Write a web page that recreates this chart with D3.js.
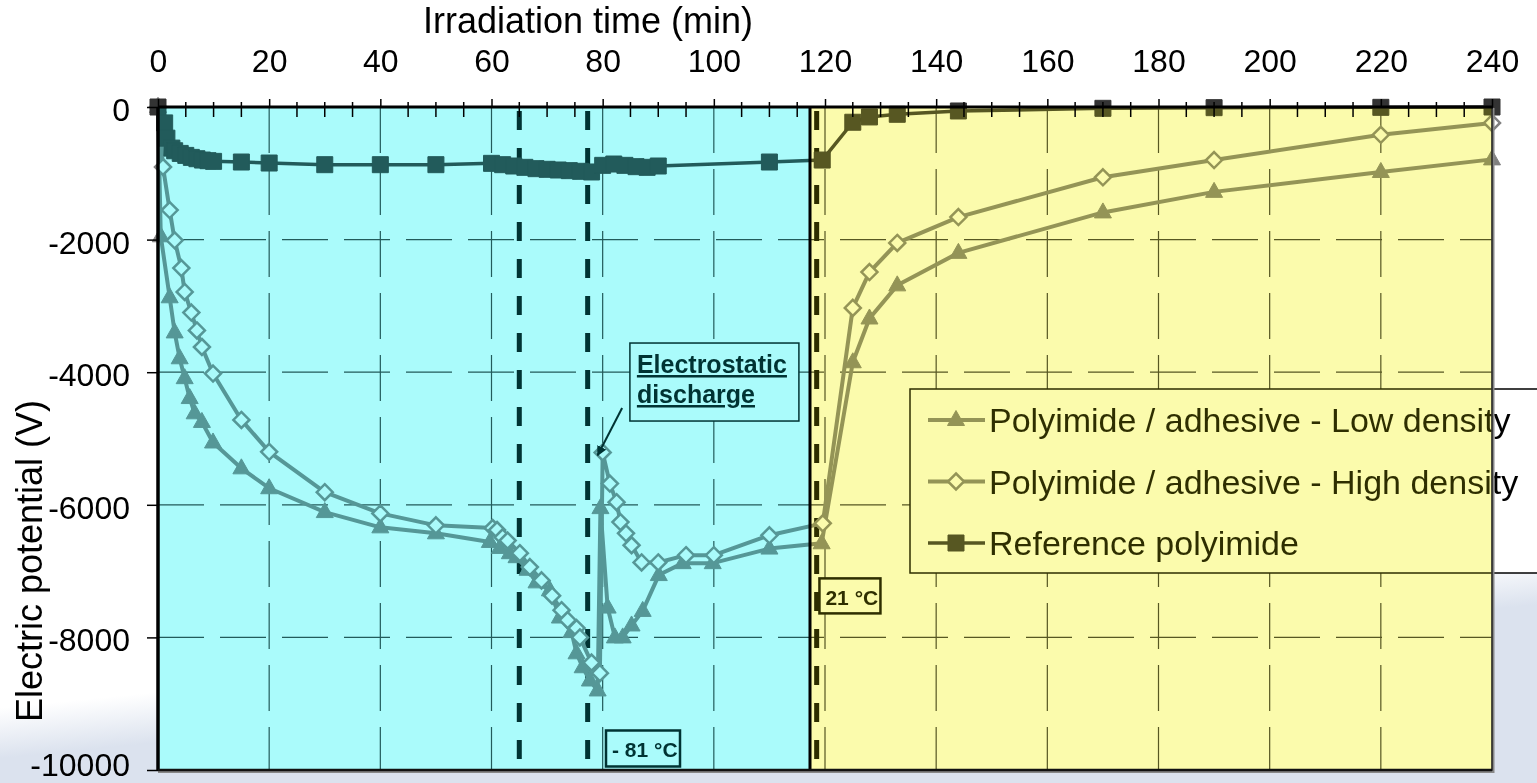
<!DOCTYPE html>
<html>
<head>
<meta charset="utf-8">
<script src="https://cdn.jsdelivr.net/npm/d3@7"></script>
<style>
  html, body { margin: 0; padding: 0; overflow: hidden; background: #fff; }
  svg { display: block; font-family: "Liberation Sans", Arial, sans-serif; }
</style>
</head>
<body>
<svg id="chart" width="1537" height="783"></svg>
<script>
'use strict';

// ---- data ----
const lowTime = [0, 0.5, 2.1, 3, 3.9, 4.8, 5.7, 6.6, 7.9, 9.9, 15, 20, 30, 40, 50, 59.7, 61.5, 63.3, 64.5, 66.5,
  68.1, 70.5, 72.3, 74.4, 75.3, 76.4, 77.7, 79.1, 79.6, 80.9, 82.2, 83.6, 85.2, 87.2, 90.1, 94.4, 99.8, 110, 119.4,
  125, 128, 133, 144, 170, 190, 220, 240];
const lowValue = [0, -1950, -2870, -3400, -3790, -4090, -4390, -4620, -4750, -5060, -5450, -5750, -6110, -6340, -6430,
  -6560, -6650, -6730, -6790, -6980, -7170, -7290, -7700, -7920, -8240, -8450, -8650, -8800, -6050, -7550, -8000,
  -8000, -7820, -7600, -7060, -6880, -6880, -6660, -6580, -3850, -3190, -2690, -2200, -1590, -1280, -980, -790];

const highTime = [0, 0.9, 2.1, 3, 4.2, 4.8, 6, 7, 7.9, 9.9, 15, 20, 30, 40, 50, 60.2, 61, 62, 62.9, 65.1, 66.9, 69,
  70.9, 72.6, 73.7, 75.3, 75.9, 78, 79.5, 80, 81.3, 82.5, 83.2, 84.2, 85.2, 87, 90, 95, 100, 110, 119.6, 125, 128,
  133, 144, 170, 190, 220, 240];
const highValue = [0, -905, -1555, -2010, -2430, -2790, -3100, -3370, -3620, -4020, -4720, -5200, -5810, -6130, -6310,
  -6350, -6380, -6490, -6540, -6730, -6940, -7140, -7370, -7590, -7740, -7860, -8000, -8380, -8540, -5210, -5680,
  -5960, -6260, -6430, -6610, -6870, -6870, -6760, -6760, -6460, -6280, -3030, -2490, -2050, -1660, -1060, -800,
  -420, -240];

const refTime = [0, 1.2, 1.6, 2.5, 3, 4, 5, 6, 7, 8, 9, 10, 15, 20, 30, 40, 50, 60, 62, 64, 66, 68, 70, 72, 74, 76,
  78, 80, 82, 84, 86, 88, 90, 110, 119.5, 125, 128, 133, 144, 170, 190, 220, 240];
const refValue = [0, -240, -470, -620, -660, -700, -730, -760, -780, -800, -810, -820, -830, -845, -870, -870, -870,
  -850, -870, -890, -910, -930, -940, -950, -960, -970, -980, -880, -860, -880, -900, -910, -890, -830, -800, -230,
  -150, -110, -60, -20, -10, -5, 0];

const seriesNames = ["Polyimide / adhesive - Low density", "Polyimide / adhesive - High density", "Reference polyimide"];

const xMajorTicks = d3.range(0, 241, 20);
const xMinorTicks = d3.range(0, 241, 5);
const yTicks = [0, -2000, -4000, -6000, -8000, -10000];

// vertical marker lines (min): temperature steps, end of cold phase
const stepTimes = [65, 77.3, 118.5];
const coldEnd = 117.3;

// ---- layout ----
const svg = d3.select("#chart");
const W = 1537, H = 783;
const margin = {top: 107, right: 45, bottom: 13, left: 158};
const x = d3.scaleLinear().domain([0, 240]).range([margin.left, W - margin.right]);
const y = d3.scaleLinear().domain([-10000, 0]).range([H - margin.bottom, margin.top]);
const x0 = x(0), x1 = x(240), y0 = y(0), y1 = y(-10000);

const defs = svg.append("defs");

const bg = defs.append("linearGradient").attr("id", "slideBg")
    .attr("gradientUnits", "userSpaceOnUse")
    .attr("x1", 68).attr("y1", 701).attr("x2", 73).attr("y2", 751);
bg.append("stop").attr("offset", 0).attr("stop-color", "#ffffff");
bg.append("stop").attr("offset", 1).attr("stop-color", "#dbe2ee");

defs.append("marker").attr("id", "arrowHead")
    .attr("viewBox", "0 0 10 10").attr("refX", 9).attr("refY", 5)
    .attr("markerWidth", 5).attr("markerHeight", 5).attr("orient", "auto")
  .append("path").attr("d", "M0,0 L10,5 L0,10 Z").attr("fill", "#000");

svg.append("rect").attr("width", W).attr("height", H).attr("fill", "url(#slideBg)");

// plot area
svg.append("rect").attr("x", x0).attr("y", y0).attr("width", x1 - x0).attr("height", y1 - y0).attr("fill", "#fff");

// gridlines
const grid = svg.append("g").attr("stroke", "#333").attr("stroke-width", 1.2).attr("stroke-dasharray", "46,16");
grid.selectAll(".hgrid").data(yTicks.slice(1, -1)).enter().append("line")
    .attr("x1", x0).attr("x2", x1).attr("y1", d => y(d)).attr("y2", d => y(d));
grid.selectAll(".vgrid").data(xMajorTicks.slice(1, -1)).enter().append("line")
    .attr("y1", y0).attr("y2", y1).attr("x1", d => x(d)).attr("x2", d => x(d));

// thick dashed step lines
svg.append("g").selectAll("line").data(stepTimes).enter().append("line")
    .attr("x1", d => x(d)).attr("x2", d => x(d)).attr("y1", y0 + 4).attr("y2", y1)
    .attr("stroke", "#000").attr("stroke-width", 5).attr("stroke-dasharray", "19,18");

// ---- series ----
const zip = (t, v) => t.map((d, i) => ({t: d, v: v[i]}));
const series = [
  {name: seriesNames[0], values: zip(lowTime, lowValue), color: "#808080", width: 4, marker: "triangle"},
  {name: seriesNames[1], values: zip(highTime, highValue), color: "#808080", width: 4, marker: "diamond"},
  {name: seriesNames[2], values: zip(refTime, refValue), color: "#333333", width: 3.5, marker: "square"}
];

const line = d3.line().x(d => x(d.t)).y(d => y(d.v));

const markerPath = {
  triangle: "M0,-9.5 L8.5,5.5 L-8.5,5.5 Z",
  diamond: "M0,-8 L8,0 L0,8 L-8,0 Z",
  square: "M-8,-8 H8 V8 H-8 Z"
};
const styleMarker = (sel, s) => {
  if (s.marker === "diamond") {
    sel.attr("fill", "#fff").attr("stroke", s.color).attr("stroke-width", 2.5);
  } else {
    sel.attr("fill", s.color).attr("stroke", s.color).attr("stroke-width", 1);
  }
};

const sg = svg.selectAll(".series").data(series).enter().append("g").attr("class", "series");
sg.append("path")
    .attr("d", d => line(d.values))
    .attr("fill", "none")
    .attr("stroke", d => d.color)
    .attr("stroke-width", d => d.width)
    .attr("stroke-linejoin", "round");
sg.each(function (s) {
  d3.select(this).selectAll(".pt").data(s.values).enter().append("path")
      .attr("class", "pt")
      .attr("transform", d => `translate(${x(d.t)},${y(d.v)})`)
      .attr("d", markerPath[s.marker])
      .call(styleMarker, s);
});

// ---- legend ----
const lg = svg.append("g").attr("transform", "translate(910,389)");
lg.append("rect").attr("width", 700).attr("height", 184).attr("fill", "#fff")
    .attr("stroke", "#000").attr("stroke-width", 1.5);
const li = lg.selectAll(".li").data(series).enter().append("g")
    .attr("transform", (d, i) => `translate(0,${31 + i * 61.5})`);
li.append("line").attr("x1", 18).attr("x2", 75)
    .attr("stroke", d => d.color).attr("stroke-width", d => d.width);
li.append("path").attr("transform", "translate(46,0)")
    .attr("d", d => markerPath[d.marker])
    .each(function (s) { d3.select(this).call(styleMarker, s); });
li.append("text").attr("x", 79).attr("dy", "0.36em")
    .attr("font-size", 34).attr("fill", "#000")
    .text(d => d.name);

// ---- annotations ----
const ann = svg.append("g").attr("font-weight", "bold").attr("fill", "#000");
const dBox = {x: x(84.9), y: y(-3560)};
ann.append("rect").attr("x", dBox.x).attr("y", dBox.y).attr("width", 169).attr("height", 78)
    .attr("fill", "#fff").attr("stroke", "#000").attr("stroke-width", 1.5);
ann.append("text").attr("x", dBox.x + 7).attr("y", dBox.y + 30).attr("font-size", 25)
    .attr("text-decoration", "underline").text("Electrostatic");
ann.append("text").attr("x", dBox.x + 7).attr("y", dBox.y + 60).attr("font-size", 25)
    .attr("text-decoration", "underline").text("discharge");
ann.append("line")
    .attr("x1", x(83.5)).attr("y1", y(-4540))
    .attr("x2", x(80) - 5).attr("y2", y(-5208) + 3)
    .attr("stroke", "#000").attr("stroke-width", 2).attr("marker-end", "url(#arrowHead)");

const coldBox = {x: x(80.6), y: y(-9404)};
ann.append("rect").attr("x", coldBox.x).attr("y", coldBox.y).attr("width", 74).attr("height", 36)
    .attr("fill", "#fff").attr("stroke", "#000").attr("stroke-width", 2.5);
ann.append("text").attr("x", coldBox.x + 6).attr("y", coldBox.y + 27).attr("font-size", 21).text("- 81 °C");

const warmBox = {x: x(119), y: y(-7110)};
ann.append("rect").attr("x", warmBox.x).attr("y", warmBox.y).attr("width", 61).attr("height", 35)
    .attr("fill", "#fff").attr("stroke", "#000").attr("stroke-width", 2.5);
ann.append("text").attr("x", warmBox.x + 6).attr("y", warmBox.y + 27).attr("font-size", 21).text("21 °C");

// ---- colour overlays (cold / warm phase) ----
svg.append("rect").attr("x", x1 - 0.5).attr("y", y0 + 1).attr("width", 3).attr("height", y1 - y0 + 2)
    .attr("fill", "#888");
svg.append("rect").attr("x", x0).attr("y", y1).attr("width", x1 - x0 + 2).attr("height", 3).attr("fill", "#888");

const phases = [
  {from: 0, to: coldEnd, tint: "#d5fafa", color: "#00ffff", op: 0.2},
  {from: coldEnd, to: 240, tint: "#fafad2", color: "#ffff00", op: 0.18}
];
phases.forEach(p => {
  svg.append("rect").attr("x", x(p.from)).attr("y", y0).attr("width", x(p.to) - x(p.from)).attr("height", y1 - y0)
      .attr("fill", p.tint).style("mix-blend-mode", "multiply");
  svg.append("rect").attr("x", x(p.from)).attr("y", y0).attr("width", x(p.to) - x(p.from)).attr("height", y1 - y0)
      .attr("fill", p.color).attr("fill-opacity", p.op);
});
svg.append("rect").attr("x", x(coldEnd)).attr("y", y0).attr("width", x1 - x(coldEnd)).attr("height", y1 - y0)
    .attr("fill", "none").attr("stroke", "#222").attr("stroke-width", 1.5);
svg.append("line").attr("x1", x(coldEnd)).attr("x2", x(coldEnd)).attr("y1", y0).attr("y2", y1)
    .attr("stroke", "#000").attr("stroke-width", 3);

// ---- axes ----
const fmt = d => String(d);

const topAxis = svg.append("g").attr("transform", `translate(0,${y0})`)
    .call(d3.axisTop(x).tickValues(xMajorTicks).tickSize(8).tickPadding(27).tickFormat(fmt));
topAxis.select(".domain").remove();
topAxis.selectAll("text").attr("font-size", 32).attr("font-family", "Liberation Sans, Arial, sans-serif").attr("fill", "#000");
topAxis.selectAll("line").attr("stroke", "#000").attr("stroke-width", 1.5);

svg.append("g").selectAll("line").data(xMinorTicks.filter(d => d % 20 !== 0)).enter().append("line")
    .attr("x1", d => x(d)).attr("x2", d => x(d)).attr("y1", y0 - 5).attr("y2", y0 + 10)
    .attr("stroke", "#000").attr("stroke-width", 1.5);

const leftAxis = svg.append("g").attr("transform", `translate(${x0},0)`)
    .call(d3.axisLeft(y).tickValues(yTicks).tickSize(11).tickPadding(17).tickFormat(fmt));
leftAxis.select(".domain").remove();
leftAxis.selectAll("text").attr("font-size", 32)
    .attr("dy", d => d === -10000 ? "0.18em" : "0.42em")
    .attr("font-family", "Liberation Sans, Arial, sans-serif").attr("fill", "#000");
leftAxis.selectAll("line").attr("stroke", "#000").attr("stroke-width", 1.5);

// frame lines
svg.append("line").attr("x1", x0).attr("x2", x1 + 1).attr("y1", y0).attr("y2", y0)
    .attr("stroke", "#000").attr("stroke-width", 3);
svg.append("line").attr("x1", x0).attr("x2", x0).attr("y1", y0).attr("y2", y1 + 1)
    .attr("stroke", "#000").attr("stroke-width", 3.5);
svg.append("line").attr("x1", x0).attr("x2", x1).attr("y1", y1).attr("y2", y1)
    .attr("stroke", "#111").attr("stroke-width", 2.5);

// axis titles
svg.append("text").attr("x", 588).attr("y", 33).attr("text-anchor", "middle")
    .attr("font-size", 36).attr("fill", "#000").text("Irradiation time (min)");
svg.append("text").attr("transform", "translate(42,561) rotate(-90)").attr("text-anchor", "middle")
    .attr("font-size", 36).attr("fill", "#000").text("Electric potential (V)");
</script>
</body>
</html>
